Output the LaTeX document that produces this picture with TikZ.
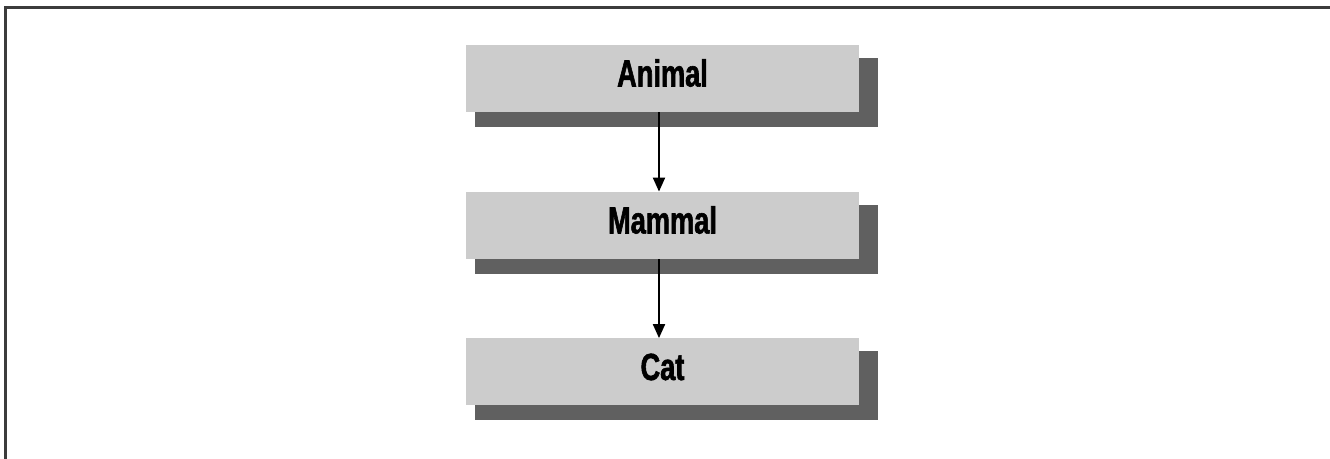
\documentclass[tikz,border=0pt]{standalone}
\usepackage{fontspec}
\newfontfamily\boxfont[FakeStretch=0.72,FakeBold=1.5]{Liberation Sans}
\usetikzlibrary{shadows,arrows.meta}
\definecolor{boxgray}{HTML}{CCCCCC}
\definecolor{shadegray}{HTML}{606060}
\definecolor{framegray}{HTML}{3C3C3C}
\tikzset{
  classbox/.style={fill=boxgray, minimum width=196.5pt, minimum height=33.5pt,
    inner sep=0pt, text height=13.5pt, text depth=5.5pt,
    font=\boxfont\bfseries\fontsize{18.9}{20}\selectfont,
    drop shadow={shadow xshift=6.75pt, shadow yshift=-6.75pt, shadow scale=1.025,
      fill=shadegray, opacity=1}},
  isa/.style={-{Triangle[length=7pt,width=6pt]}, line width=1pt}
}
\begin{document}
\begin{tikzpicture}[x=0.5pt,y=-0.5pt]
\useasboundingbox (0,0) rectangle (1330,459);
\draw[framegray, line width=1.75pt] (5.5,459) -- (5.5,7.5) -- (1330,7.5);
\node[classbox] (animal) at (662.5,78.5) {Animal};
\node[classbox] (mammal) at (662.5,225.5) {Mammal};
\node[classbox] (cat) at (662.5,372) {Cat};
\draw[isa] ([xshift=-1.75pt]animal.south) -- ([xshift=-1.75pt]mammal.north);
\draw[isa] ([xshift=-1.75pt]mammal.south) -- ([xshift=-1.75pt]cat.north);
\end{tikzpicture}
\end{document}
